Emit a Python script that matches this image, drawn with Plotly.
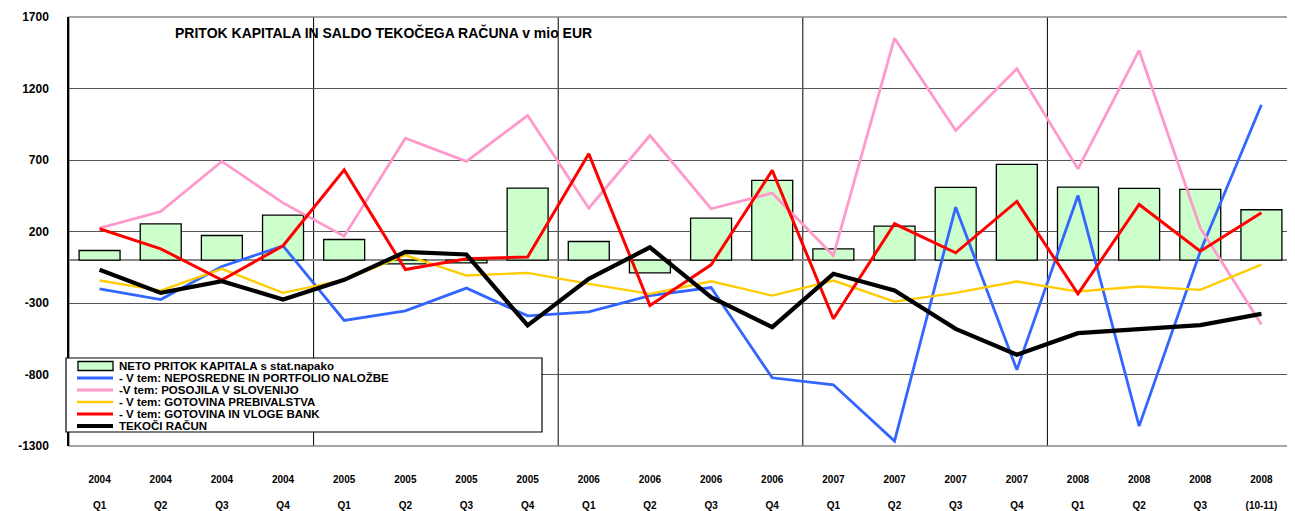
import plotly.graph_objects as go

years = ["2004", "2004", "2004", "2004", "2005", "2005", "2005", "2005",
         "2006", "2006", "2006", "2006", "2007", "2007", "2007", "2007",
         "2008", "2008", "2008", "2008"]
quarters = ["Q1", "Q2", "Q3", "Q4", "Q1", "Q2", "Q3", "Q4",
            "Q1", "Q2", "Q3", "Q4", "Q1", "Q2", "Q3", "Q4",
            "Q1", "Q2", "Q3", "(10-11)"]
categories = [f"{y} {q}" for y, q in zip(years, quarters)]
tick_labels = [f"{y}<br><br>{q}" for y, q in zip(years, quarters)]

neto_pritok = [67, 254, 172, 314, 144, -26, -20, 503, 130, -89,
               293, 557, 79, 237, 508, 669, 510, 501, 494, 352]
neposredne = [-201, -276, -45, 100, -422, -355, -196, -390, -362, -248,
              -192, -823, -872, -1266, 370, -767, 452, -1161, 60, 1086]
posojila = [223, 340, 690, 400, 167, 852, 690, 1011, 363, 871,
            359, 468, 32, 1552, 906, 1338, 638, 1466, 225, -450]
gotovina_preb = [-143, -213, -61, -229, -138, 35, -108, -89, -166, -236,
                 -148, -248, -143, -290, -229, -150, -220, -185, -208, -31]
gotovina_bank = [219, 79, -140, 100, 631, -66, 9, 22, 743, -317,
                 -33, 627, -410, 254, 51, 410, -236, 389, 62, 331]
tekoci = [-68, -229, -147, -276, -138, 57, 39, -457, -131, 89,
          -259, -469, -96, -213, -481, -662, -511, -483, -455, -376]

names = ["NETO PRITOK KAPITALA s stat.napako",
         "- V tem: NEPOSREDNE IN PORTFOLIO NALOŽBE",
         "-V tem: POSOJILA V SLOVENIJO",
         "- V tem: GOTOVINA PREBIVALSTVA",
         "- V tem: GOTOVINA IN VLOGE BANK",
         "TEKOČI RAČUN"]
line_series = [neposredne, posojila, gotovina_preb, gotovina_bank, tekoci]
line_colors = ["#3366FF", "#FF99CC", "#FFCC00", "#FF0000", "#000000"]
line_widths = [2.8, 2.8, 2.4, 3, 4.2]
bar_color = "#CCFFCC"

FONT = "Arial, Liberation Sans, sans-serif"

fig = go.Figure()
fig.add_trace(go.Bar(x=categories, y=neto_pritok, name=names[0],
                     marker=dict(color=bar_color, line=dict(color="black", width=1.3)),
                     showlegend=False))
for nm, ys, c, w in zip(names[1:], line_series, line_colors, line_widths):
    fig.add_trace(go.Scatter(x=categories, y=ys, name=nm, mode="lines",
                             line=dict(color=c, width=w), showlegend=False))

# page offset (default body margin) and target plot area in window pixels
OFF = 8
L, R, T, B = 69, 1292, 17, 446
W, H = 1295 - OFF, 511 - OFF


def px_x(p):
    return (p - L) / (R - L)


def px_y(p):
    return (B - p) / (B - T)


shapes = []
# year separators
for k in [3.5, 7.5, 11.5, 15.5]:
    shapes.append(dict(type="line", xref="x", yref="paper", x0=k, x1=k, y0=0, y1=1,
                       line=dict(color="black", width=1), layer="below"))
# frame
shapes.append(dict(type="rect", xref="paper", yref="paper", x0=0, x1=1, y0=0, y1=1,
                   line=dict(color="#888888", width=1.5), layer="below"))

# manual legend
annotations = []
lx0, lx1, ly0, ly1 = 66, 542, 358, 432
shapes.append(dict(type="rect", xref="paper", yref="paper",
                   x0=px_x(lx0), x1=px_x(lx1), y0=px_y(ly1), y1=px_y(ly0),
                   fillcolor="white", line=dict(color="black", width=1.2), layer="above"))
row0, rowh = 366, 12
for i, nm in enumerate(names):
    ry = row0 + rowh * i
    if i == 0:
        shapes.append(dict(type="rect", xref="paper", yref="paper",
                           x0=px_x(78), x1=px_x(113), y0=px_y(ry + 4.5), y1=px_y(ry - 4.5),
                           fillcolor=bar_color, line=dict(color="black", width=1.3), layer="above"))
    else:
        shapes.append(dict(type="line", xref="paper", yref="paper",
                           x0=px_x(77), x1=px_x(113), y0=px_y(ry), y1=px_y(ry),
                           line=dict(color=line_colors[i - 1], width=line_widths[i - 1]),
                           layer="above"))
    annotations.append(dict(xref="paper", yref="paper", x=px_x(117), y=px_y(ry),
                            xanchor="left", yanchor="middle", showarrow=False, text=nm,
                            font=dict(family=FONT, size=11.5, color="black", weight="bold")))

annotations.append(dict(xref="paper", yref="paper", x=px_x(173), y=px_y(32),
                        xanchor="left", yanchor="middle", showarrow=False,
                        text="PRITOK KAPITALA IN SALDO TEKOČEGA RAČUNA v mio EUR",
                        font=dict(family=FONT, size=14, color="black", weight="bold")))

fig.update_layout(
    width=W, height=H,
    margin=dict(l=L - OFF, r=(1295 - R), t=T - OFF, b=(511 - B), pad=0, autoexpand=False),
    paper_bgcolor="white", plot_bgcolor="white",
    bargap=0.33,
    showlegend=False,
    shapes=shapes,
    annotations=annotations,
    font=dict(family=FONT, color="black"),
)
fig.update_xaxes(type="category", tickmode="array", tickvals=categories, ticktext=tick_labels,
                 tickangle=0, showgrid=False, zeroline=False, showline=False, automargin=False,
                 ticks="outside", ticklen=24, tickcolor="rgba(0,0,0,0)",
                 tickfont=dict(family=FONT, size=10, color="black", weight="bold"),
                 range=[-0.5, 19.5])
fig.update_yaxes(range=[-1300, 1700], tickmode="array", automargin=False,
                 tickvals=[-1300, -800, -300, 200, 700, 1200, 1700],
                 ticktext=["-1300", "-800", "-300", "200", "700", "1200", "1700"],
                 showgrid=True, gridcolor="#555555", gridwidth=1,
                 zeroline=True, zerolinecolor="#888888", zerolinewidth=2,
                 showline=True, linecolor="black", linewidth=1.5,
                 ticks="outside", ticklen=16, tickcolor="rgba(0,0,0,0)",
                 tickfont=dict(family=FONT, size=12, color="black", weight="bold"))

fig.write_html("out.html")
